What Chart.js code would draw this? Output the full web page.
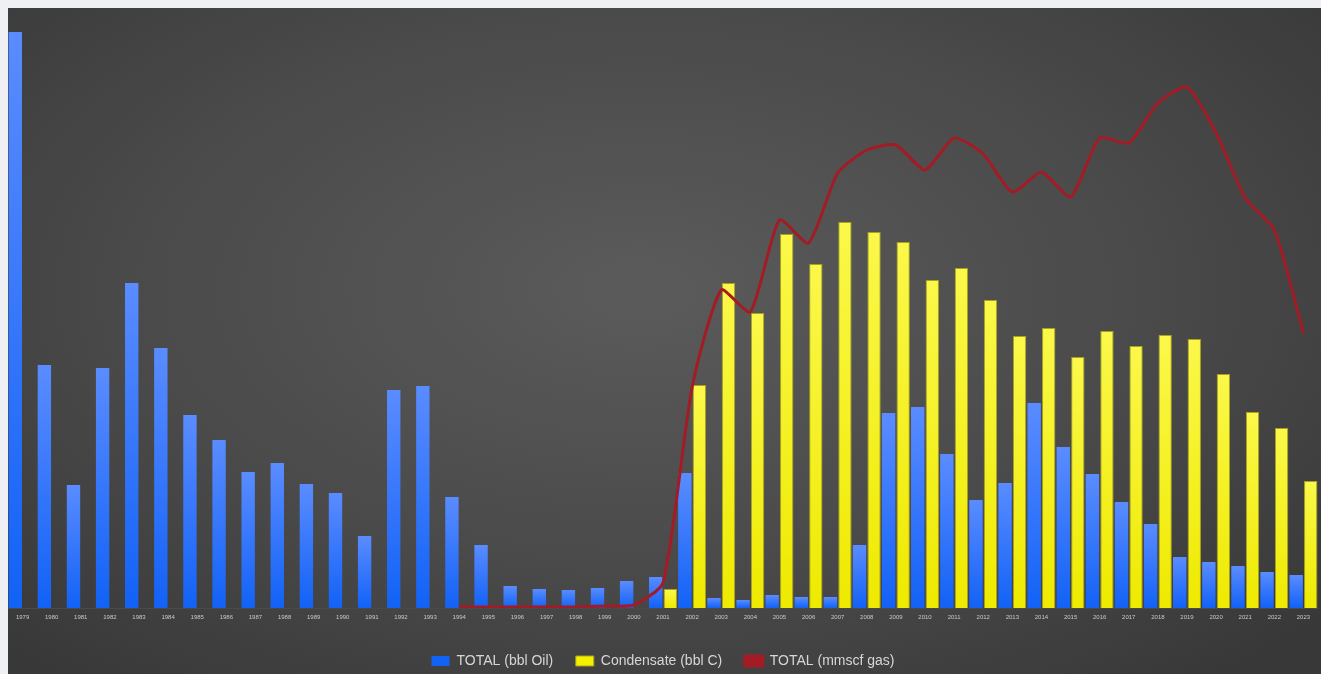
<!DOCTYPE html>
<html>
<head>
<meta charset="utf-8">
<script src="https://cdn.jsdelivr.net/npm/chart.js@4"></script>
<style>
    html, body { margin: 0; padding: 0; background: #eff0f3; overflow: hidden; }
    #frame {
        position: absolute;
        left: 8px;
        top: 8px;
        width: 1313px;
        height: 670px;
        background: radial-gradient(ellipse 70% 75% at 48% 42%, #5b5b5b 0%, #4a4a4a 55%, #383838 100%);
    }
</style>
</head>
<body>
<div id="frame"><canvas id="prodChart" width="1313" height="670"></canvas></div>
<script>
const years = [];
for (let y = 1979; y <= 2023; y++) years.push(String(y));

// arbitrary units (no axis values shown)
const oil = [576, 243, 123, 240, 325, 260, 193, 168, 136, 145, 124, 115, 72, 218, 222,
    111, 63, 22, 19, 18, 20, 27, 31, 135, 10, 8, 13, 11, 11, 63,
    195, 201, 154, 108, 125, 205, 161, 134, 106, 84, 51, 46, 42, 36, 33];

const condensate = [null, null, null, null, null, null, null, null, null, null, null, null, null, null, null,
    null, null, null, null, null, null, null, 19, 223, 325, 295, 374, 344, 386, 376,
    366, 328, 340, 308, 272, 280, 251, 277, 262, 273, 269, 234, 196, 180, 127];

const gas = [null, null, null, null, null, null, null, null, null, null, null, null, null, null, null,
    1, 1, 1, 1, 1, 2, 3, 25, 221, 318, 296, 388, 365, 435, 458,
    463, 438, 470, 454, 416, 436, 411, 470, 465, 505, 521, 475, 410, 378, 275];

function barFill(top, bottom, fallback) {
    return (c) => {
        const chart = c.chart;
        const area = chart.chartArea;
        if (!area || c.type !== 'data' || c.raw == null) return fallback;
        const y0 = chart.scales.y.getPixelForValue(c.raw);
        const g = chart.ctx.createLinearGradient(0, y0, 0, area.bottom);
        g.addColorStop(0, top);
        g.addColorStop(1, bottom);
        return g;
    };
}

const ctx = document.getElementById('prodChart').getContext('2d');
const chart = new Chart(ctx, {
    data: {
        labels: years,
        datasets: [
            {
                type: 'bar',
                label: 'TOTAL (bbl Oil)',
                data: oil,
                backgroundColor: barFill('#5a8cff', '#1262f6', '#2a6ff5'),
                borderWidth: 0,
                categoryPercentage: 1.0,
                barPercentage: 0.92,
                order: 2
            },
            {
                type: 'bar',
                label: 'Condensate (bbl C)',
                data: condensate,
                backgroundColor: barFill('#fbf84a', '#eeea00', '#f4f000'),
                borderColor: '#a9a21a',
                borderWidth: 1,
                categoryPercentage: 1.0,
                barPercentage: 0.92,
                order: 2
            },
            {
                type: 'line',
                label: 'TOTAL (mmscf gas)',
                data: gas,
                borderColor: '#a31c25',
                backgroundColor: '#a31c25',
                borderWidth: 3,
                pointRadius: 0,
                tension: 0.2,
                order: 1
            }
        ]
    },
    options: {
        responsive: false,
        animation: false,
        layout: { padding: { left: 0, right: 3, top: 0, bottom: 0 } },
        scales: {
            x: {
                grid: { display: false, drawTicks: false },
                border: { display: true, color: '#4a4a4a' },
                ticks: {
                    color: '#c9c9c9',
                    font: { family: 'Liberation Sans', size: 6 },
                    autoSkip: false,
                    maxRotation: 0,
                    padding: 6
                },
                afterFit: (scale) => { scale.height = 39; }
            },
            y: {
                display: false,
                min: 0,
                max: 600
            }
        },
        plugins: {
            legend: {
                position: 'bottom',
                labels: {
                    color: '#d6d6d6',
                    font: { family: 'Liberation Sans', size: 14 },
                    boxWidth: 18,
                    boxHeight: 10,
                    padding: 7,
                    sort: (a, b) => a.datasetIndex - b.datasetIndex,
                    generateLabels: (ch) => {
                        const items = Chart.defaults.plugins.legend.labels.generateLabels(ch);
                        items.forEach((it) => {
                            if (it.datasetIndex < 2) it.text = it.text + '    ';
                        });
                        return items;
                    }
                }
            },
            tooltip: { enabled: false }
        }
    }
});
</script>
</body>
</html>
